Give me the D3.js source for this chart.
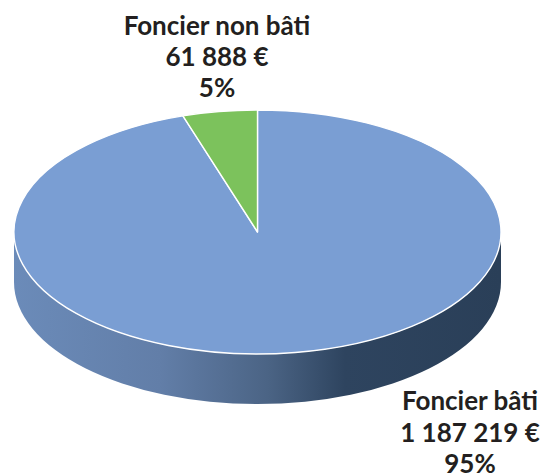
<!DOCTYPE html>
<html lang="en">
<head>
	<meta charset="UTF-8">
	<title>Foncier</title>
	<script src="https://d3js.org/d3.v7.min.js"></script>
	<style>
		html, body { margin: 0; padding: 0; background: #fff; }
		svg { display: block; }
	</style>
</head>
<body>
	<script type="text/javascript">
		const categories = ["Foncier bâti", "Foncier non bâti"];
		const values = [1187219, 61888];
		const valueLabels = ["1 187 219 €", "61 888 €"];
		const percentLabels = ["95%", "5%"];
		const colors = ["#7a9ed3", "#7cc25c"];

		const width = 544;
		const height = 475;
		const cx = 257.5;
		const cy = 232;
		const rx = 243.5;
		const ry = 122;
		const depth = 50;
		const tilt = ry / rx;

		const svg = d3.select("body")
			.append("svg")
			.attr("width", width)
			.attr("height", height);

		// side of the disc, horizontal shading from left to right
		// the gradient lives inside the disc group, so x runs from -rx to rx
		const grad = svg.append("defs")
			.append("linearGradient")
			.attr("id", "side")
			.attr("gradientUnits", "userSpaceOnUse")
			.attr("x1", -rx).attr("x2", rx)
			.attr("y1", 0).attr("y2", 0);
		grad.append("stop").attr("offset", "0").attr("stop-color", "#6b8bb9");
		grad.append("stop").attr("offset", "0.3").attr("stop-color", "#627ea8");
		grad.append("stop").attr("offset", "0.52").attr("stop-color", "#4b6485");
		grad.append("stop").attr("offset", "0.68").attr("stop-color", "#2e445f");
		grad.append("stop").attr("offset", "1").attr("stop-color", "#2a3f58");

		// everything round is drawn as a circle and squashed by the tilt
		const disc = svg.append("g")
			.attr("transform", `translate(${cx},${cy}) scale(1,${tilt})`);

		const sidePath = d3.path();
		sidePath.moveTo(-rx, 0);
		sidePath.lineTo(-rx, depth / tilt);
		sidePath.arc(0, depth / tilt, rx, Math.PI, 0, true);
		sidePath.lineTo(rx, 0);
		sidePath.arc(0, 0, rx, 0, Math.PI, false);
		sidePath.closePath();

		disc.append("path")
			.attr("d", sidePath.toString())
			.attr("fill", "url(#side)");

		const pie = d3.pie().sort(null);
		const arc = d3.arc().innerRadius(0).outerRadius(rx);

		disc.selectAll("path.slice")
			.data(pie(values))
			.enter()
			.append("path")
			.attr("class", "slice")
			.attr("d", arc)
			.attr("fill", (d, i) => colors[i])
			.attr("stroke", "#fff")
			.attr("stroke-width", 1.4)
			.attr("vector-effect", "non-scaling-stroke")
			.attr("stroke-linejoin", "round");

		const labelPos = [
			{ x: 470, y: [410, 442, 473] },
			{ x: 217, y: [35, 66, 97] }
		];

		categories.forEach((name, i) => {
			const lines = [name, valueLabels[i], percentLabels[i]];
			svg.selectAll(null)
				.data(lines)
				.enter()
				.append("text")
				.text((d) => d)
				.attr("x", labelPos[i].x)
				.attr("y", (d, j) => labelPos[i].y[j])
				.attr("text-anchor", "middle")
				.attr("font-family", "Lato, sans-serif")
				.attr("font-weight", "bold")
				.attr("font-size", "26px")
				.attr("fill", "#231f20");
		});
	</script>
</body>
</html>
